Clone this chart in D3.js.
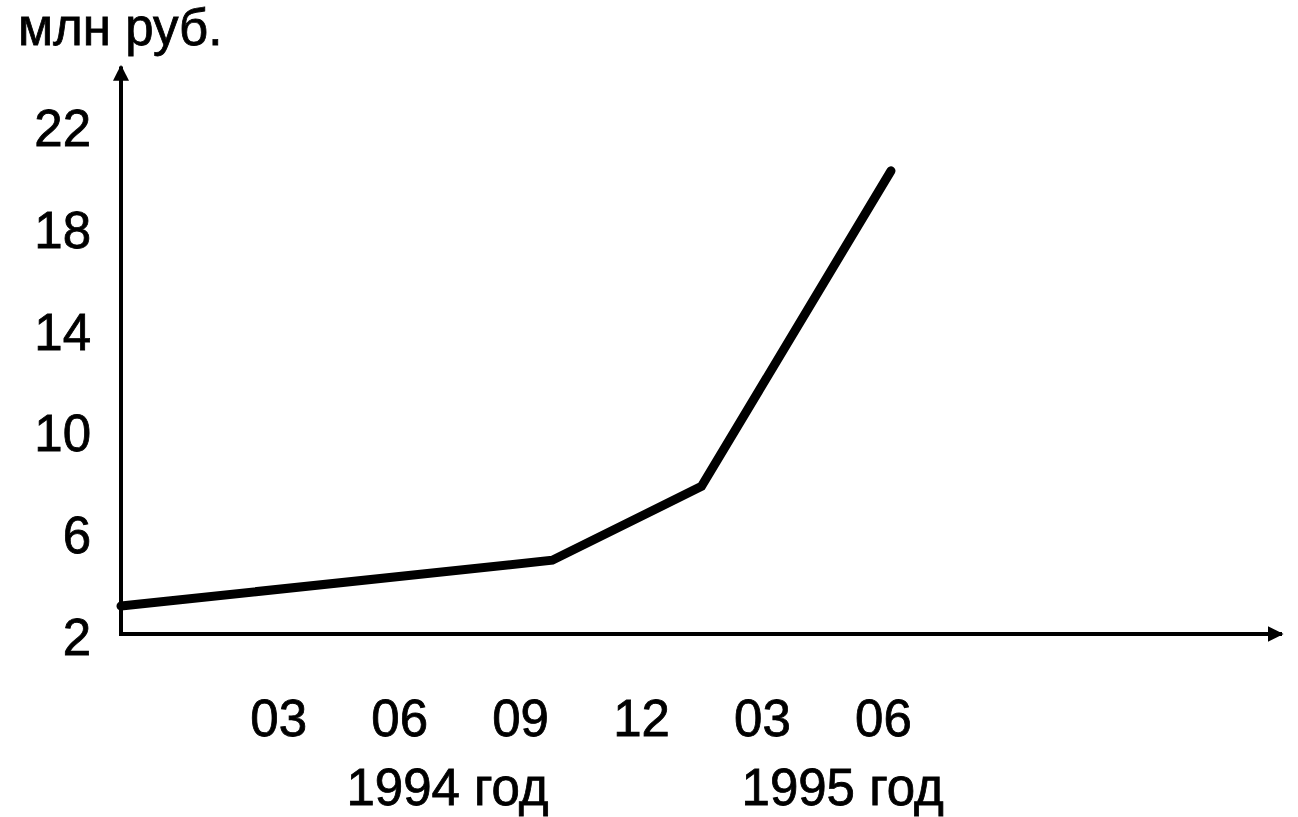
<!DOCTYPE html>
<html><head><meta charset="utf-8">
<script src="https://cdn.jsdelivr.net/npm/d3@7"></script>
<style>
html,body{margin:0;padding:0;background:#fff;}
text{font-family:"Liberation Sans",Arial,Helvetica,sans-serif;fill:#000;}
</style></head>
<body>
<svg id="chart" width="1298" height="817"></svg>
<script>
// Data (months counted from Jan 1994 = 1)
const months = [-0.9, 9.8, 13.5, 18.2];
const values = [3.1, 4.9, 7.8, 20.2];
const xTickMonths = [3, 6, 9, 12, 15, 18];
const xTickLabels = ["03", "06", "09", "12", "03", "06"];
const yTicks = [2, 6, 10, 14, 18, 22];
const yearLabels = ["1994 год", "1995 год"];
const yearPos = [7.2, 17.0];
const yUnit = "млн руб.";

const FS = 51;
const svg = d3.select("#chart");
const x = d3.scaleLinear().domain([-0.9, 27.9]).range([121, 1282]);
const y = d3.scaleLinear().domain([2, 22]).range([634, 125]);
const yMax = 24.3;

const defs = svg.append("defs");
defs.append("marker").attr("id","arr").attr("viewBox","0 0 10 10")
  .attr("refX",9).attr("refY",5).attr("markerWidth",4).attr("markerHeight",4)
  .attr("orient","auto").attr("markerUnits","strokeWidth")
  .append("path").attr("d","M0,0 L10,5 L0,10 z").attr("fill","#000");

// axes lines with arrows
svg.append("line").attr("x1",x(-0.9)).attr("x2",x(-0.9))
  .attr("y1",y(2)).attr("y2",y(yMax))
  .attr("stroke","#000").attr("stroke-width",4).attr("marker-end","url(#arr)");
svg.append("line").attr("x1",x(-0.9)-2).attr("x2",x(27.9))
  .attr("y1",y(2)).attr("y2",y(2))
  .attr("stroke","#000").attr("stroke-width",4).attr("marker-end","url(#arr)");

// y axis labels
const yAxis = d3.axisLeft(y).tickValues(yTicks).tickSize(0).tickPadding(30);
const gy = svg.append("g").attr("transform",`translate(${x(-0.9)},0)`).call(yAxis);
gy.select(".domain").remove();
gy.selectAll("text").attr("font-size",FS).attr("dy","0.4em")
  .attr("font-family","Liberation Sans, Arial, sans-serif")
  .attr("stroke","#000").attr("stroke-width",0.8).attr("fill","#000");

// x axis labels
const xAxis = d3.axisBottom(x).tickValues(xTickMonths).tickSize(0).tickPadding(102)
  .tickFormat((d,i)=>xTickLabels[i]);
const gx = svg.append("g").attr("transform",`translate(0,${y(2)})`).call(xAxis);
gx.select(".domain").remove();
gx.selectAll("text").attr("font-size",FS).attr("dy","0")
  .attr("font-family","Liberation Sans, Arial, sans-serif")
  .attr("stroke","#000").attr("stroke-width",0.8).attr("fill","#000");

// year labels
svg.selectAll(".yr").data(yearLabels).enter().append("text")
  .attr("class","yr").attr("x",(d,i)=>x(yearPos[i])).attr("y",y(2)+171)
  .attr("text-anchor","middle").attr("font-size",FS)
  .attr("stroke","#000").attr("stroke-width",0.8).text(d=>d);

// unit label
svg.append("text").attr("x",18).attr("y",45).attr("font-size",FS)
  .attr("stroke","#000").attr("stroke-width",0.8).text(yUnit);

// line
const line = d3.line().x((d,i)=>x(months[i])).y(d=>y(d));
svg.append("path").datum(values).attr("d",line)
  .attr("fill","none").attr("stroke","#000").attr("stroke-width",9)
  .attr("stroke-linejoin","miter").attr("stroke-linecap","round");
</script>
</body></html>
